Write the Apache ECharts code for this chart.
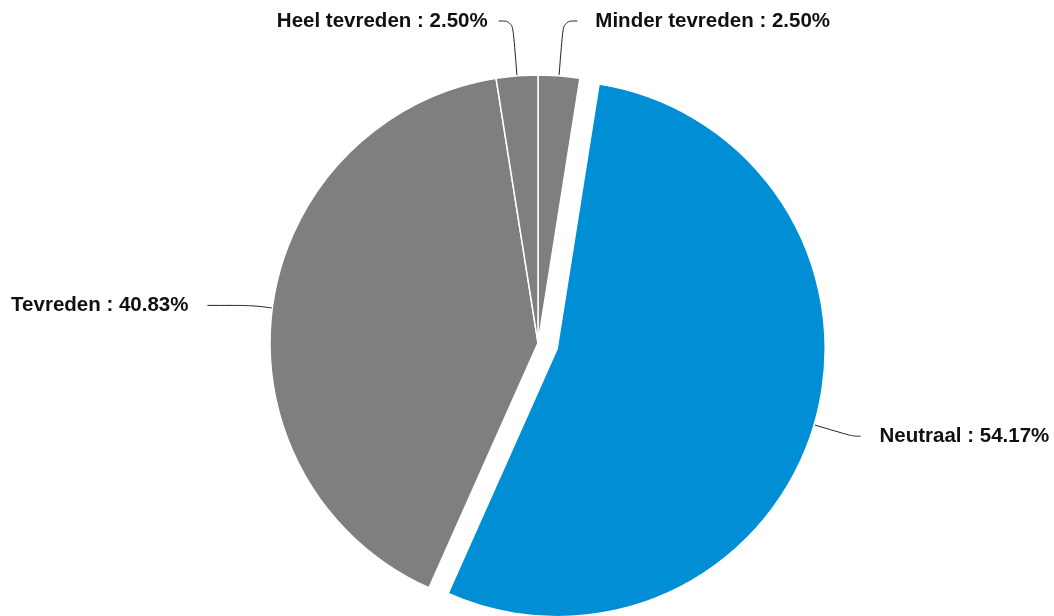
<!DOCTYPE html>
<html>
<head>
<meta charset="utf-8">
<style>
html,body{margin:0;padding:0;background:#fff;}
#chart{width:1054px;height:616px;}
</style>
<script src="https://cdn.jsdelivr.net/npm/echarts@6/dist/echarts.min.js"></script>
</head>
<body>
<div id="chart"></div>
<script>
var categories = ['Minder tevreden', 'Neutraal', 'Tevreden', 'Heel tevreden'];
var values = [2.50, 54.17, 40.83, 2.50];
var colors = ['#7f7f7f', '#008fd5', '#7f7f7f', '#7f7f7f'];

var lineCfg = [
  {length: 55, length2: 14, dist: 18},
  {length: 40, length2: 8, dist: 19},
  {length: 20, length2: 45, dist: 19},
  {length: 55, length2: 14, dist: 11}
];

var data = categories.map(function (c, i) {
  return {
    name: c,
    value: values[i],
    selected: c === 'Neutraal',
    itemStyle: {color: colors[i]},
    label: {distanceToLabelLine: lineCfg[i].dist},
    labelLine: {length: lineCfg[i].length, length2: lineCfg[i].length2}
  };
});

var chart = echarts.init(document.getElementById('chart'), null, {renderer: 'canvas'});
chart.setOption({
  animation: false,
  backgroundColor: '#ffffff',
  series: [{
    type: 'pie',
    center: [538, 343],
    radius: 268,
    startAngle: 90,
    clockwise: true,
    selectedMode: 'single',
    selectedOffset: 20,
    avoidLabelOverlap: false,
    itemStyle: {borderColor: '#ffffff', borderWidth: 1.5},
    label: {
      show: true,
      position: 'outside',
      color: '#111111',
      fontFamily: 'Liberation Sans, Arial, sans-serif',
      fontWeight: 'bold',
      fontSize: 20.5,
      formatter: function (p) { return p.name + ' : ' + p.value.toFixed(2) + '%'; }
    },
    labelLine: {
      show: true,
      smooth: 0.4,
      lineStyle: {color: '#222222', width: 1}
    },
    emphasis: {disabled: true},
    select: {itemStyle: {color: '#008fd5'}},
    data: data
  }]
});
</script>
</body>
</html>
